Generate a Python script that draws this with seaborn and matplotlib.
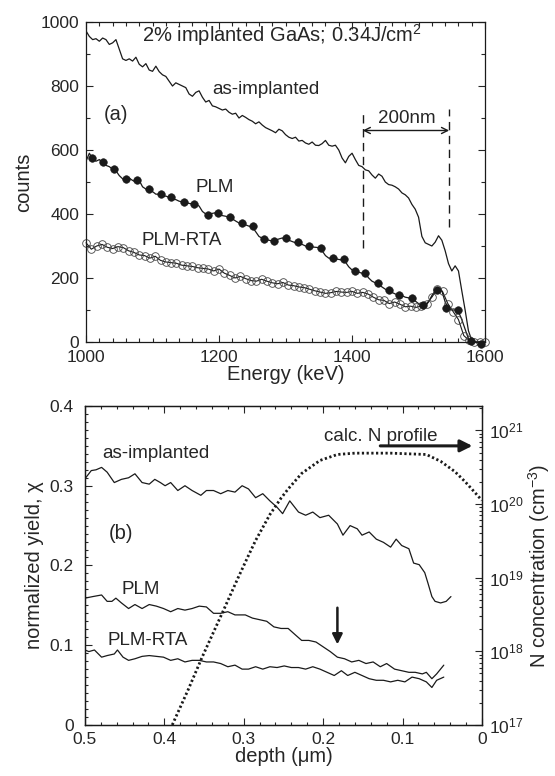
import numpy as np
import pandas as pd
import matplotlib
matplotlib.use("Agg")
import matplotlib.pyplot as plt
from matplotlib.ticker import MultipleLocator, FuncFormatter, LogLocator, NullFormatter, LogFormatterSciNotation
import seaborn as sns

# ---------------- data: panel (a) RBS spectra ----------------
energy_5kev = [
    1000, 1005, 1010, 1015, 1020, 1025, 1030, 1035, 1040, 1045,
    1050, 1055, 1060, 1065, 1070, 1075, 1080, 1085, 1090, 1095,
    1100, 1105, 1110, 1115, 1120, 1125, 1130, 1135, 1140, 1145,
    1150, 1155, 1160, 1165, 1170, 1175, 1180, 1185, 1190, 1195,
    1200, 1205, 1210, 1215, 1220, 1225, 1230, 1235, 1240, 1245,
    1250, 1255, 1260, 1265, 1270, 1275, 1280, 1285, 1290, 1295,
    1300, 1305, 1310, 1315, 1320, 1325, 1330, 1335, 1340, 1345,
    1350, 1355, 1360, 1365, 1370, 1375, 1380, 1385, 1390, 1395,
    1400, 1405, 1410, 1415, 1420, 1425, 1430, 1435, 1440, 1445,
    1450, 1455, 1460, 1465, 1470, 1475, 1480, 1485, 1490, 1495,
    1500, 1505, 1510, 1515, 1520, 1525, 1530, 1535, 1540, 1545,
    1550, 1555, 1560, 1565, 1570, 1575, 1580, 1585, 1590, 1595,
    1600]

asimp_counts = [
    972, 955, 945, 948, 940, 950, 945, 930, 935, 945,
    915, 885, 880, 885, 878, 890, 868, 860, 870, 850,
    846, 862, 845, 835, 830, 815, 800, 810, 805, 800,
    795, 775, 768, 780, 785, 765, 750, 755, 738, 735,
    730, 725, 728, 718, 712, 715, 700, 708, 702, 695,
    690, 682, 688, 678, 670, 665, 660, 654, 665, 660,
    648, 640, 636, 640, 628, 630, 622, 618, 625, 615,
    614, 620, 630, 615, 612, 615, 600, 575, 560, 580,
    590, 570, 552, 548, 538, 535, 522, 512, 525, 518,
    500, 492, 490, 485, 478, 466, 460, 450, 430, 415,
    390, 330, 310, 305, 300, 312, 332, 318, 285, 245,
    222, 238, 222, 160, 100, 35, 5, 0, 0, 0,
    0]

plm_counts = [
    565, 590, 572, 565, 570, 560, 552, 548, 540, 535,
    520, 510, 505, 512, 505, 500, 505, 485, 478, 478,
    470, 462, 462, 455, 456, 452, 447, 445, 440, 438,
    436, 433, 432, 430, 425, 408, 400, 398, 402, 404,
    400, 395, 393, 390, 385, 378, 372, 370, 366, 362,
    360, 345, 330, 324, 320, 318, 316, 318, 322, 325,
    322, 318, 314, 310, 308, 305, 300, 298, 297, 296,
    295, 285, 270, 262, 262, 260, 258, 256, 250, 235,
    225, 220, 218, 215, 213, 200, 190, 185, 180, 172,
    165, 160, 155, 150, 147, 145, 140, 138, 134, 128,
    120, 115, 112, 125, 145, 160, 168, 160, 125, 105,
    100, 100, 95, 70, 40, 10, 0, 0, 0, 0,
    0]

plm_dot_energy = [1009, 1026, 1042, 1060, 1077, 1094, 1112, 1128, 1147, 1163,
                  1183, 1199, 1216, 1235, 1251, 1267, 1283, 1301, 1319, 1336,
                  1353, 1372, 1388, 1404, 1420, 1439, 1455, 1471, 1490, 1506,
                  1528, 1541, 1560, 1579, 1594]
plm_dot_counts = [576, 564, 541, 508, 507, 477, 461, 454, 437, 432,
                  398, 403, 392, 371, 362, 323, 316, 326, 311, 300,
                  295, 263, 258, 223, 216, 184, 163, 147, 137, 116,
                  163, 105, 100, 2, -5]

energy_8kev = [
    1000, 1008, 1016, 1024, 1032, 1040, 1048, 1056, 1064, 1072,
    1080, 1088, 1096, 1104, 1112, 1120, 1128, 1136, 1144, 1152,
    1160, 1168, 1176, 1184, 1192, 1200, 1208, 1216, 1224, 1232,
    1240, 1248, 1256, 1264, 1272, 1280, 1288, 1296, 1304, 1312,
    1320, 1328, 1336, 1344, 1352, 1360, 1368, 1376, 1384, 1392,
    1400, 1408, 1416, 1424, 1432, 1440, 1448, 1456, 1464, 1472,
    1480, 1488, 1496, 1504, 1512, 1520, 1528, 1536, 1544, 1552,
    1560, 1568, 1576, 1584, 1592, 1600]
rta_counts = [
    310, 290, 300, 305, 296, 292, 298, 295, 285, 280,
    272, 270, 262, 268, 255, 250, 248, 246, 240, 238,
    236, 232, 230, 228, 222, 228, 215, 208, 200, 205,
    198, 192, 190, 196, 190, 185, 182, 186, 178, 176,
    172, 170, 165, 160, 156, 152, 154, 158, 156, 155,
    158, 152, 155, 150, 140, 132, 130, 120, 125, 118,
    110, 112, 108, 112, 120, 140, 165, 158, 120, 95,
    70, 20, 5, 0, 0, 0]

window_energy = [1416, 1546]          # dashed lines bounding the 200 nm window

# ---------------- data: panel (b) normalized yield vs depth ----------------
asimp_depth = [0.499, 0.492, 0.486, 0.479, 0.472, 0.463, 0.454, 0.445, 0.437, 0.428,
               0.419, 0.412, 0.405, 0.399, 0.392, 0.383, 0.374, 0.365, 0.354, 0.347,
               0.338, 0.329, 0.320, 0.311, 0.302, 0.294, 0.285, 0.276, 0.267, 0.258,
               0.251, 0.242, 0.231, 0.222, 0.213, 0.204, 0.193, 0.182, 0.175, 0.166,
               0.157, 0.151, 0.142, 0.133, 0.124, 0.115, 0.108, 0.101, 0.092, 0.086,
               0.079, 0.072, 0.068, 0.063, 0.059, 0.052, 0.045, 0.039]
asimp_chi = [0.310, 0.319, 0.320, 0.323, 0.317, 0.304, 0.308, 0.310, 0.315, 0.304,
             0.302, 0.308, 0.304, 0.300, 0.304, 0.294, 0.300, 0.294, 0.288, 0.294,
             0.294, 0.290, 0.294, 0.292, 0.300, 0.296, 0.285, 0.290, 0.281, 0.273,
             0.265, 0.281, 0.267, 0.263, 0.267, 0.260, 0.263, 0.252, 0.238, 0.250,
             0.246, 0.238, 0.242, 0.233, 0.229, 0.223, 0.233, 0.225, 0.221, 0.203,
             0.201, 0.191, 0.178, 0.161, 0.155, 0.153, 0.155, 0.161]

plm_depth = [0.500, 0.490, 0.479, 0.472, 0.466, 0.461, 0.454, 0.445, 0.437, 0.428,
             0.419, 0.410, 0.401, 0.392, 0.383, 0.374, 0.365, 0.356, 0.347, 0.338,
             0.329, 0.320, 0.311, 0.302, 0.298, 0.289, 0.280, 0.271, 0.262, 0.253,
             0.244, 0.235, 0.227, 0.218, 0.209, 0.200, 0.191, 0.182, 0.173, 0.164,
             0.155, 0.146, 0.137, 0.128, 0.120, 0.110, 0.101, 0.092, 0.084, 0.075,
             0.070, 0.063, 0.057, 0.048]
plm_chi = [0.159, 0.161, 0.163, 0.155, 0.155, 0.159, 0.153, 0.146, 0.151, 0.146,
           0.151, 0.149, 0.146, 0.142, 0.146, 0.144, 0.146, 0.149, 0.148, 0.140,
           0.140, 0.142, 0.138, 0.138, 0.138, 0.134, 0.132, 0.130, 0.123, 0.121,
           0.121, 0.113, 0.106, 0.106, 0.104, 0.098, 0.092, 0.085, 0.083, 0.079,
           0.081, 0.077, 0.079, 0.073, 0.077, 0.070, 0.068, 0.066, 0.066, 0.064,
           0.066, 0.058, 0.064, 0.075]

rta_depth = [0.500, 0.495, 0.488, 0.479, 0.472, 0.463, 0.459, 0.452, 0.445, 0.437,
             0.428, 0.419, 0.410, 0.401, 0.392, 0.383, 0.374, 0.365, 0.356, 0.347,
             0.338, 0.329, 0.320, 0.311, 0.302, 0.294, 0.285, 0.276, 0.267, 0.258,
             0.249, 0.240, 0.231, 0.222, 0.213, 0.204, 0.195, 0.186, 0.177, 0.169,
             0.160, 0.151, 0.142, 0.133, 0.124, 0.115, 0.106, 0.097, 0.088, 0.079,
             0.070, 0.063, 0.057, 0.048]
rta_chi = [0.094, 0.092, 0.094, 0.085, 0.087, 0.089, 0.094, 0.085, 0.081, 0.083,
           0.086, 0.087, 0.086, 0.085, 0.081, 0.083, 0.079, 0.081, 0.081, 0.079,
           0.079, 0.077, 0.073, 0.075, 0.070, 0.070, 0.073, 0.070, 0.073, 0.072,
           0.074, 0.072, 0.072, 0.070, 0.073, 0.070, 0.066, 0.062, 0.068, 0.062,
           0.066, 0.062, 0.058, 0.056, 0.056, 0.054, 0.056, 0.054, 0.060, 0.058,
           0.054, 0.047, 0.056, 0.060]

n_depth = [0.390, 0.370, 0.352, 0.325, 0.307, 0.294, 0.285, 0.267, 0.253, 0.244,
           0.227, 0.204, 0.182, 0.160, 0.115, 0.070, 0.052, 0.034, 0.021, 0.008, 0.000]
n_conc = [1.0e17, 3.0e17, 8.5e17, 3.7e18, 1.0e19, 2.0e19, 3.2e19, 7.2e19, 1.2e20, 1.6e20,
          2.6e20, 3.9e20, 4.7e20, 4.9e20, 4.9e20, 4.7e20, 3.8e20, 2.75e20, 2.0e20, 1.4e20, 1.12e20]

# ---------------- style ----------------
sns.set_theme(style="ticks")
plt.rcParams['font.family'] = ['Liberation Sans', 'DejaVu Sans']
plt.rcParams['mathtext.fontset'] = 'custom'
plt.rcParams['mathtext.rm'] = 'Liberation Sans'
plt.rcParams['mathtext.it'] = 'Liberation Sans:italic'
plt.rcParams['mathtext.default'] = 'regular'
plt.rcParams['axes.linewidth'] = 0.9

TICK_FS = 12.5
LAB_FS = 14.5
ANN_FS = 13.5

fig = plt.figure(figsize=(5.55, 7.76), dpi=100)
fig.patch.set_facecolor('white')
axA = fig.add_axes([0.155, 0.5593, 0.719, 0.4123])
axB = fig.add_axes([0.153, 0.0658, 0.7153, 0.4110])

# ---------------- panel (a) ----------------
sns.lineplot(x=energy_5kev, y=asimp_counts, ax=axA, color='k', lw=0.9,
             estimator=None, sort=False)
sns.lineplot(x=energy_5kev, y=plm_counts, ax=axA, color='k', lw=0.9,
             estimator=None, sort=False)
sns.scatterplot(x=plm_dot_energy, y=plm_dot_counts, ax=axA, color='k', s=30,
                edgecolor='k', linewidth=0.4, zorder=4, clip_on=False)
sns.lineplot(x=energy_8kev, y=rta_counts, ax=axA, color='k', lw=0.8,
             marker='o', markersize=5.5, markerfacecolor='none',
             markeredgecolor='#444444', markeredgewidth=0.6,
             estimator=None, sort=False, clip_on=False)

axA.vlines(window_energy, ymin=[295, 358], ymax=[718, 728], colors='k',
           linestyles=(0, (6, 4)), lw=1.0)
axA.annotate('', xy=(window_energy[0], 661), xytext=(window_energy[1], 661),
             arrowprops=dict(arrowstyle='<->', color='k', lw=1.0,
                             mutation_scale=11, shrinkA=0, shrinkB=0))
axA.text(1482, 700, '200nm', fontsize=ANN_FS, ha='center', va='center')
axA.text(1295, 958, '2% implanted GaAs; 0.34J/cm$^2$', fontsize=14.5,
         ha='center', va='center')
axA.text(1270, 790, 'as-implanted', fontsize=ANN_FS, ha='center', va='center')
axA.text(1045, 712, '(a)', fontsize=14.5, ha='center', va='center')
axA.text(1193, 484, 'PLM', fontsize=ANN_FS, ha='center', va='center')
axA.text(1144, 316, 'PLM-RTA', fontsize=ANN_FS, ha='center', va='center')

axA.set_xlim(1000, 1600)
axA.set_ylim(0, 1000)
axA.xaxis.set_major_locator(MultipleLocator(200))
axA.xaxis.set_minor_locator(MultipleLocator(20))
axA.yaxis.set_major_locator(MultipleLocator(200))
axA.yaxis.set_minor_locator(MultipleLocator(100))
axA.tick_params(which='both', direction='in', top=True, right=True,
                labelsize=TICK_FS, width=0.8)
axA.tick_params(which='major', length=5)
axA.tick_params(axis='x', which='major', pad=6)
axA.tick_params(axis='y', which='major', pad=5)
axA.tick_params(which='minor', length=3)
axA.set_xlabel('Energy (keV)', fontsize=LAB_FS, labelpad=0)
axA.set_ylabel('counts', fontsize=LAB_FS, labelpad=5)

# ---------------- panel (b) ----------------
sns.lineplot(x=asimp_depth, y=asimp_chi, ax=axB, color='k', lw=0.9,
             estimator=None, sort=False)
sns.lineplot(x=plm_depth, y=plm_chi, ax=axB, color='k', lw=0.9,
             estimator=None, sort=False)
sns.lineplot(x=rta_depth, y=rta_chi, ax=axB, color='k', lw=0.9,
             estimator=None, sort=False)

axB.set_xlim(0.5, 0.0)
axB.set_ylim(0, 0.4)
axB.xaxis.set_major_locator(MultipleLocator(0.1))
axB.xaxis.set_minor_locator(MultipleLocator(0.02))
axB.yaxis.set_major_locator(MultipleLocator(0.1))
axB.yaxis.set_minor_locator(MultipleLocator(0.01))
fmt = FuncFormatter(lambda v, p: '0' if abs(v) < 1e-9 else f'{v:.1f}')
axB.xaxis.set_major_formatter(fmt)
axB.yaxis.set_major_formatter(fmt)
axB.tick_params(which='both', direction='in', top=True, right=False,
                labelsize=TICK_FS, width=0.8)
axB.tick_params(which='major', length=5)
axB.tick_params(axis='x', which='major', pad=5)
axB.tick_params(axis='y', which='major', pad=8)
axB.tick_params(which='minor', length=2.5)
axB.set_xlabel('depth (\u03bcm)', fontsize=LAB_FS, labelpad=0)
axB.set_ylabel('normalized yield, \u03c7', fontsize=LAB_FS, labelpad=4)

axB.text(0.478, 0.340, 'as-implanted', fontsize=ANN_FS, ha='left', va='center')
axB.text(0.455, 0.240, '(b)', fontsize=14.5, ha='center', va='center')
axB.text(0.430, 0.170, 'PLM', fontsize=ANN_FS, ha='center', va='center')
axB.text(0.421, 0.106, 'PLM-RTA', fontsize=ANN_FS, ha='center', va='center')
axB.text(0.128, 0.362, 'calc. N profile', fontsize=ANN_FS, ha='center', va='center')
axB.annotate('', xy=(0.012, 0.350), xytext=(0.128, 0.350),
             arrowprops=dict(arrowstyle='-|>', color='k', lw=2.2,
                             mutation_scale=18, shrinkA=0, shrinkB=0))
axB.annotate('', xy=(0.182, 0.101), xytext=(0.182, 0.147),
             arrowprops=dict(arrowstyle='-|>', color='k', lw=1.8,
                             mutation_scale=15, shrinkA=0, shrinkB=0))

ax2 = axB.twinx()
ax2.set_yscale('log')
sns.lineplot(x=n_depth, y=n_conc, ax=ax2, color='k', lw=2.0,
             linestyle=(0, (0.8, 0.9)), estimator=None, sort=False)
ax2.set_ylim(1e17, 2.14e21)
ax2.set_xlim(0.5, 0.0)
ax2.yaxis.set_major_locator(LogLocator(base=10, numticks=10))
ax2.yaxis.set_minor_locator(LogLocator(base=10, subs=np.arange(2, 10), numticks=100))
ax2.yaxis.set_minor_formatter(NullFormatter())
ax2.yaxis.set_major_formatter(LogFormatterSciNotation())
ax2.tick_params(which='both', direction='in', labelsize=TICK_FS, width=0.8)
ax2.tick_params(which='major', length=5, pad=5)
ax2.tick_params(which='minor', length=2.5)
ax2.set_ylabel('N concentration (cm$^{-3}$)', fontsize=LAB_FS, labelpad=2)

for ax in (axA, axB, ax2):
    for s in ax.spines.values():
        s.set_linewidth(0.9)
        s.set_color('k')

fig.savefig('out.png', dpi=100, facecolor='white')
